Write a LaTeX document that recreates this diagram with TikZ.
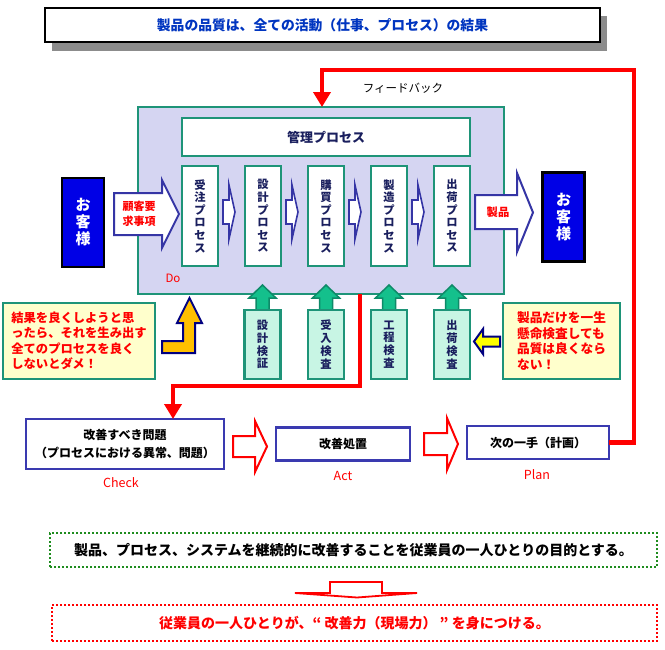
\documentclass[tikz,border=0pt]{standalone}
\usepackage{fontspec}
\setmainfont{Noto Sans CJK JP}
\usetikzlibrary{arrows.meta,calc}
\definecolor{tealc}{HTML}{1E9478}
\definecolor{lav}{HTML}{D5D5F2}
\definecolor{navy}{HTML}{1A1F5E}
\definecolor{mint}{HTML}{C8F5E4}
\definecolor{garr}{HTML}{14C08C}
\definecolor{garrd}{HTML}{0E8A68}
\definecolor{cream}{HTML}{FFFFCC}
\definecolor{bluebox}{HTML}{0000E6}
\definecolor{arrblue}{HTML}{3535A5}
\definecolor{pdblue}{HTML}{3A3AB0}
\definecolor{gold}{HTML}{FFC000}
\definecolor{titleblue}{HTML}{0035C0}
\definecolor{dotgreen}{HTML}{1E8C1E}
\definecolor{shadowgray}{HTML}{8C8C8C}
\definecolor{redc}{HTML}{FF0000}
\definecolor{yel}{HTML}{FFFF00}
\definecolor{darknavy}{HTML}{000080}
\pgfdeclarelayer{front}
\pgfsetlayers{main,front}
\begin{document}
\begin{tikzpicture}[x=1pt,y=-1pt,
  every node/.style={inner sep=0pt,outer sep=0pt},
  titlebox/.style={draw=black,line width=2.5pt,fill=white,minimum width=555pt,minimum height=34pt,text=titleblue,font=\fontsize{13.8}{16}\selectfont\bfseries},
  bigbox/.style={draw=tealc,fill=lav,line width=2.5pt,minimum width=366pt,minimum height=187pt},
  mgmtbox/.style={draw=tealc,fill=white,line width=2.5pt,minimum width=288pt,minimum height=38pt,text=navy,font=\fontsize{13}{15}\selectfont\bfseries},
  procbox/.style={draw=tealc,fill=white,line width=2.5pt,minimum width=36pt,minimum height=100pt,text=navy,align=center,font=\fontsize{11.3}{12.6}\selectfont\bfseries},
  inspbox/.style={draw=tealc,fill=mint,line width=2.5pt,minimum width=36pt,minimum height=69pt,text=navy,align=center,font=\fontsize{11.3}{12.8}\selectfont\bfseries},
  custbox/.style={draw=black,fill=bluebox,line width=2.5pt,minimum width=42pt,minimum height=89pt,text=white,align=center,font=\fontsize{15}{17}\selectfont\bfseries},
  callout/.style={draw=tealc,fill=cream,line width=2.5pt,minimum height=76pt,text=redc,align=left,font=\fontsize{12.3}{15.5}\selectfont\bfseries},
  barrow/.style={draw=arrblue,fill=white,line width=2pt,line join=miter},
  garrow/.style={draw=garrd,fill=garr,line width=1.5pt,line join=miter},
  pdbox/.style={draw=pdblue,fill=white,line width=2.2pt,font=\fontsize{12}{18}\selectfont\bfseries,align=center},
  rarrow/.style={draw=redc,fill=white,line width=2pt,line join=miter},
  redline/.style={draw=redc,line width=4.5pt,line join=miter},
  redtip/.style={-{Triangle[width=17pt,length=15pt]}},
  pdlabel/.style={text=redc,font=\fontsize{12.5}{14}\selectfont},
  dotbox/.style={line width=2pt,dash pattern=on 2pt off 2pt,fill=white}
]
\fill[white] (0,0) rectangle (665,649);
\useasboundingbox (0,0) rectangle (665,649);

% title
\fill[shadowgray] (52,16) rectangle (607,51);
\node[titlebox] (title) at (322.5,25) {製品の品質は、全ての活動（仕事、プロセス）の結果};

% feedback label
\node[font=\fontsize{11.5}{14}\selectfont] (fbtext) at (403,88) {フィードバック};

% big Do box
\node[bigbox] (big) at (321,200.5) {};
\node[mgmtbox] (mgmt) at (326,137) {管理プロセス};
\node[procbox] (p1) at (200,216) {受\\注\\プ\\ロ\\セ\\ス};
\node[procbox] (p2) at (263,216) {設\\計\\プ\\ロ\\セ\\ス};
\node[procbox] (p3) at (326,216) {購\\買\\プ\\ロ\\セ\\ス};
\node[procbox] (p4) at (389,216) {製\\造\\プ\\ロ\\セ\\ス};
\node[procbox] (p5) at (452,216) {出\\荷\\プ\\ロ\\セ\\ス};
\node[text=redc,font=\fontsize{11.5}{13}\selectfont] (do) at (173,278) {Do};

% small arrows between processes
\foreach \a in {p1,p2,p3,p4}{
  \draw[barrow,line width=1.6pt] ($(\a.east)+(5,-16)$) -- ++(6,0) -- ++(0,-15) -- ++(6,27) -- ++(-6,27) -- ++(0,-15) -- ++(-6,0) -- cycle;
}

% customers
\node[custbox] (c1) at (83,222.5) {お\\客\\様};
\node[custbox] (c2) at (563.5,217) {お\\客\\様};

% input arrow
\draw[barrow] (114,193) -- (162,193) -- (162,180) -- (179,214) -- (162,248) -- (162,235) -- (114,235) -- cycle;
\node[text=redc,align=center,font=\fontsize{11}{15}\selectfont\bfseries] (req) at (139,214) {顧客要\\求事項};

% output arrow
\draw[barrow] (475,195) -- (517,195) -- (517,173) -- (533,212.5) -- (517,252) -- (517,229) -- (475,229) -- cycle;
\node[text=redc,font=\fontsize{11.3}{13}\selectfont\bfseries] (prod) at (498,212) {製品};

% inspections
\begin{pgfonlayer}{front}
\node[inspbox] (i1) at (262.5,344.5) {設\\計\\検\\証};
\node[inspbox] (i2) at (326,344.5) {受\\入\\検\\査};
\node[inspbox] (i3) at (389,344.5) {工\\程\\検\\査};
\node[inspbox] (i4) at (452,344.5) {出\\荷\\検\\査};
\end{pgfonlayer}
\foreach \n in {i1,i2,i3,i4}{
  \draw[garrow] ($(\n.north)+(-6.5,0)$) -- ++(0,-12) -- ++(-7,0) -- ($(\n.north)+(0,-25)$) -- ($(\n.north)+(13.5,-12)$) -- ++(-7,0) -- ($(\n.north)+(6.5,0)$) -- cycle;
}

% callouts
\node[callout,minimum width=152pt] (cl) at (79,341) {結果を良くしようと思\\ったら、それを生み出す\\全てのプロセスを良く\\しないとダメ！};
\node[callout,minimum width=117pt,font=\fontsize{12.7}{15.5}\selectfont\bfseries] (cr) at (561.5,341) {製品だけを一生\\懸命検査しても\\品質は良くなら\\ない！};

% gold bent arrow
\draw[draw=darknavy,fill=gold,line width=2pt,line join=miter] (162,341) -- (183,341) -- (183,323) -- (177,323) -- (189.5,298) -- (202,323) -- (195,323) -- (195,353) -- (162,353) -- cycle;
% yellow left arrow
\draw[draw=darknavy,fill=yel,line width=2pt,line join=miter] (474,341.5) -- (483,329) -- (483,336.5) -- (500,336.5) -- (500,346.5) -- (483,346.5) -- (483,354) -- cycle;

% PDCA row
\node[pdbox,minimum width=198pt,minimum height=50pt] (check) at (125,444) {改善すべき問題\\（プロセスにおける異常、問題）};
\node[pdbox,minimum width=134pt,minimum height=33pt] (act) at (343,444) {改善処置};
\node[pdbox,minimum width=142pt,minimum height=33pt] (plan) at (538,442.5) {次の一手（計画）};
\node[pdlabel] (lcheck) at (121,483) {Check};
\node[pdlabel] (lact) at (343,476) {Act};
\node[pdlabel] (lplan) at (537,475) {Plan};

\draw[rarrow] (233,436) -- (255,436) -- (255,421) -- (267,446.5) -- (255,472) -- (255,457) -- (233,457) -- cycle;
\draw[rarrow] (424,433) -- (447,433) -- (447,418) -- (458,444) -- (447,470) -- (447,455) -- (424,455) -- cycle;

% red connectors
\coordinate (k1) at (360,386);
\coordinate (k2) at (173,386);
\draw[redline,redtip] (k1 |- big.south) -- (k1) -- (k2) -- (k2 |- check.north);
\coordinate (f1) at (634,70);
\coordinate (f2) at (322,70);
\draw[redline,redtip] (plan.east) -| (f1) -- (f2) -- (f2 |- big.north);

% bottom
\node[dotbox,draw=dotgreen,minimum width=607pt,minimum height=34pt,font=\fontsize{14}{16}\selectfont\bfseries] (goal) at (353.5,550) {製品、プロセス、システムを継続的に改善することを従業員の一人ひとりの目的とする。};
\node[dotbox,draw=redc,minimum width=605pt,minimum height=36pt,text=redc,font=\fontsize{14}{16}\selectfont\bfseries] (skill) at (354.5,623) {従業員の一人ひとりが、“ 改善力（現場力） ” を身につける。};
\draw[draw=redc,fill=white,line width=1.8pt,line join=miter] (295,593) -- (330,593) -- (330,582) -- (382,582) -- (382,593) -- (417,593) -- (357,597.5) -- cycle;
\end{tikzpicture}
\end{document}
